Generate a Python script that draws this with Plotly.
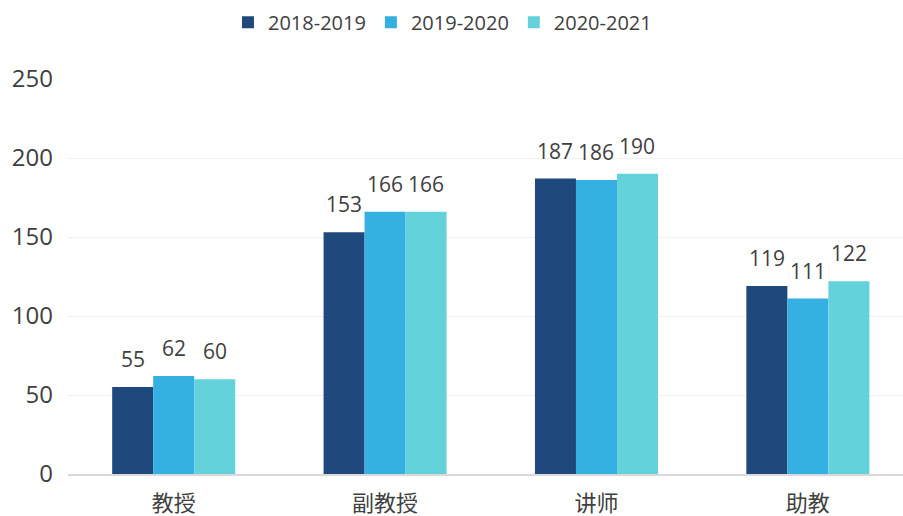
import plotly.graph_objects as go

categories = ["教授", "副教授", "讲师", "助教"]
series_names = ["2018-2019", "2019-2020", "2020-2021"]
values_2018 = [55, 153, 187, 119]
values_2019 = [62, 166, 186, 111]
values_2020 = [60, 166, 190, 122]
colors = ["#1F497D", "#35B0E2", "#63D2DA"]
y_ticks = [0, 50, 100, 150, 200, 250]

all_values = [values_2018, values_2019, values_2020]

fig = go.Figure()
for name, vals, col in zip(series_names, all_values, colors):
    fig.add_trace(go.Bar(
        name=name, x=categories, y=vals, marker=dict(color=col, line=dict(width=0)),
    ))

# value labels above each bar
bar_px = 41
for i, vals in enumerate(all_values):
    for cat, v in zip(categories, vals):
        fig.add_annotation(x=cat, y=v, xref="x", yref="y", text=str(v), showarrow=False,
                           xshift=(i - 1) * bar_px, yshift=28, yanchor="middle",
                           font=dict(size=21, color="#404040", family="Open Sans, Noto Sans CJK SC"))

fig.update_layout(
    width=903, height=516,
    margin=dict(l=68, r=0, t=79, b=42, autoexpand=False),
    paper_bgcolor="white", plot_bgcolor="white",
    barmode="group", bargap=0.418, bargroupgap=0,
    font=dict(family="Open Sans, Noto Sans CJK SC", color="#404040"),
    legend=dict(orientation="h", x=0.49, xref="container", xanchor="center",
                yref="container", y=0.957, yanchor="middle",
                font=dict(size=20, color="#404040"), itemwidth=30,
                traceorder="normal"),
    showlegend=True,
)
fig.update_xaxes(range=[-0.5, 3.45], showgrid=False, showline=True, linecolor="#D9D9D9", linewidth=1.5,
                 ticks="", tickfont=dict(size=22, family="Noto Sans CJK SC", color="#404040"),
                 ticklabelstandoff=9, automargin=False)
fig.update_yaxes(range=[0, 250], tickvals=y_ticks, showgrid=True, gridcolor="#F0F0F0", gridwidth=1,
                 zeroline=False, showline=False, ticks="", tickfont=dict(size=24, color="#404040"),
                 ticklabelstandoff=14, automargin=False)

fig.write_html("out.html", config={"displayModeBar": False},
               post_script="document.body.style.margin='0';")
